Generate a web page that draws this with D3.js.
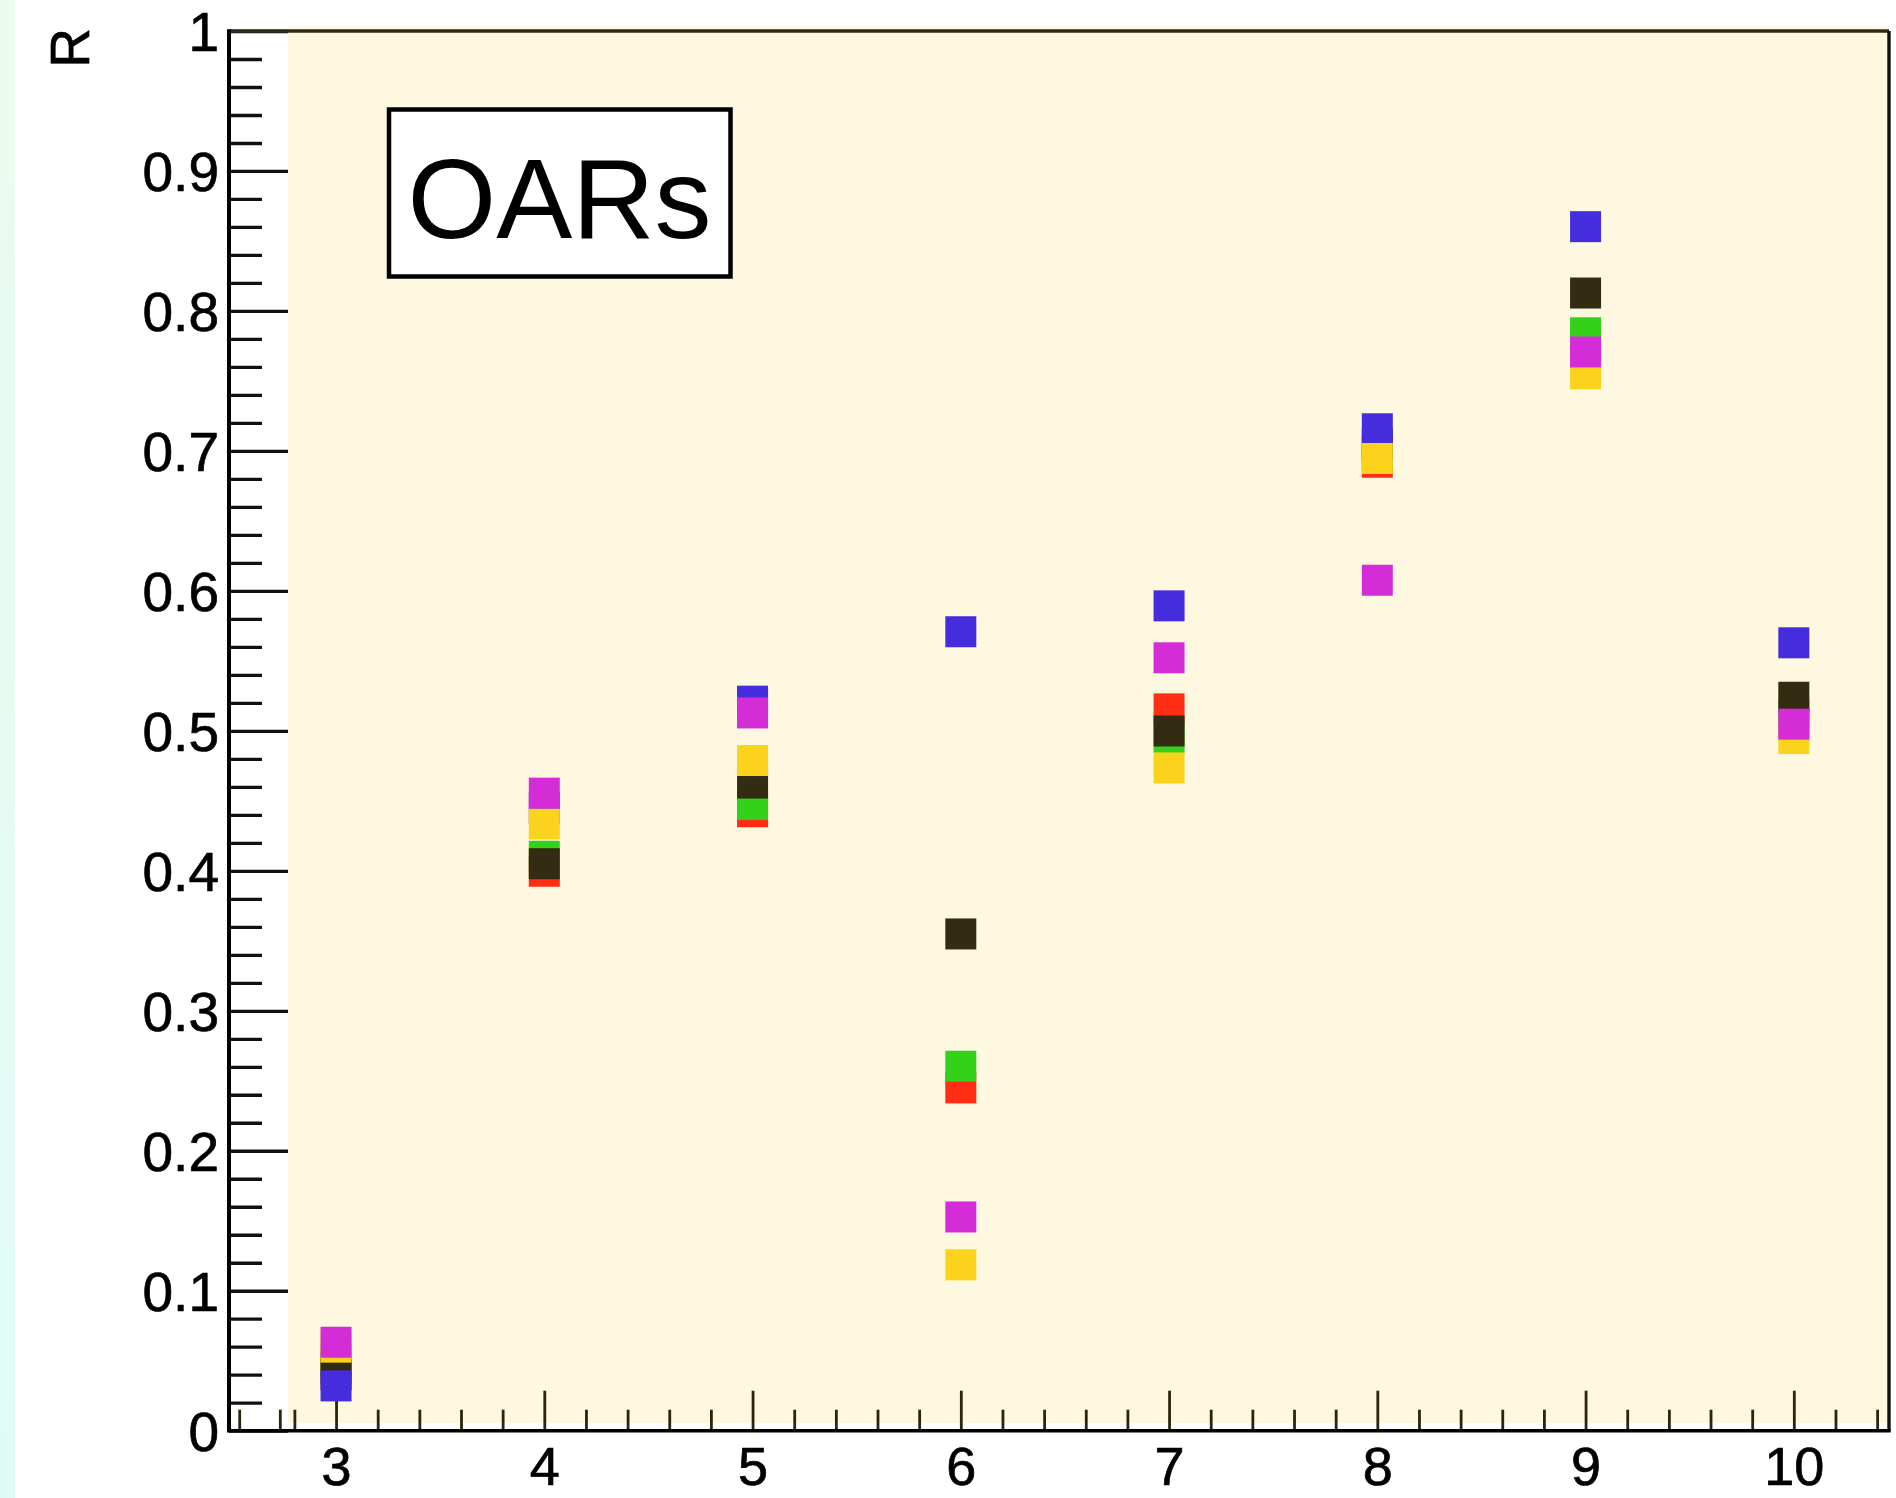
<!DOCTYPE html>
<html>
<head>
<meta charset="utf-8">
<script src="https://cdn.jsdelivr.net/npm/d3@7"></script>
<style>
  body { margin: 0; background: #ffffff; }
  svg { display: block; }
  text { font-family: "Liberation Sans", Arial, Helvetica, sans-serif; }
</style>
</head>
<body>
<svg id="chart" width="1896" height="1498"></svg>
<script>
// ---------------- data ----------------
const X_VALUES = [3, 4, 5, 6, 7, 8, 9, 10];
const RED     = [0.045, 0.3997, 0.4422, 0.2449, 0.5157, 0.6919, 0.775, 0.505];
const GREEN   = [0.050, 0.4104, 0.4474, 0.2604, 0.4952, 0.700, 0.7844, 0.512];
const BLACK   = [0.040, 0.4051, 0.4627, 0.3549, 0.4999, 0.705, 0.8128, 0.5240];
const BLUE    = [0.032, 0.445, 0.5212, 0.5708, 0.5893, 0.7158, 0.8602, 0.5629];
const YELLOW  = [0.0597, 0.4335, 0.4788, 0.1185, 0.4735, 0.6946, 0.7551, 0.4945];
const MAGENTA = [0.0632, 0.4555, 0.5128, 0.1527, 0.5522, 0.6076, 0.7707, 0.5048];

const Y_TICKS  = [0, 0.1, 0.2, 0.3, 0.4, 0.5, 0.6, 0.7, 0.8, 0.9, 1];
const Y_LABELS = ["0", "0.1", "0.2", "0.3", "0.4", "0.5", "0.6", "0.7", "0.8", "0.9", "1"];
const X_TICKS  = [3, 4, 5, 6, 7, 8, 9, 10];
const X_LABELS = ["3", "4", "5", "6", "7", "8", "9", "10"];
const X_EXTRA_MINOR = [2.535, 2.73];
const Y_TITLE = "R";
const BOX_LABEL = "OARs";

// draw order (later on top)
const SERIES = [
  { name: "red",     color: "#fe2d14", values: RED },
  { name: "green",   color: "#33d11a", values: GREEN },
  { name: "black",   color: "#332c12", values: BLACK },
  { name: "blue",    color: "#452cdc", values: BLUE },
  { name: "yellow",  color: "#fbd21c", values: YELLOW },
  { name: "magenta", color: "#d42dd8", values: MAGENTA }
];

// ---------------- layout ----------------
const W = 1896, H = 1498;
const L = 229, R = 1889, T = 31, B = 1430.7;
const FONT = 55;
const svg = d3.select("#chart");

const x = d3.scaleLinear().domain([2.486, 10.457]).range([L, R]);
const y = d3.scaleLinear().domain([0, 1]).range([B, T]);

// backgrounds
const defs = svg.append("defs");
const grad = defs.append("linearGradient").attr("id", "mint")
  .attr("x1", 0).attr("y1", 0).attr("x2", 0).attr("y2", 1);
grad.append("stop").attr("offset", "0%").attr("stop-color", "#ebfbef");
grad.append("stop").attr("offset", "100%").attr("stop-color", "#e0fbf6");
svg.append("rect").attr("x", 0).attr("y", 0).attr("width", 15).attr("height", H).attr("fill", "url(#mint)");

svg.append("rect").attr("x", 288).attr("y", 26).attr("width", R - 288).attr("height", 1423 - 26)
  .attr("fill", "#fdf8df");

// y minor ticks
const yMinor = d3.range(0, 51).map(i => i / 50).filter((v, i) => i % 5 !== 0);
svg.append("g").attr("transform", `translate(${L},0)`)
  .call(d3.axisRight(y).tickValues(yMinor).tickSize(33).tickFormat(""))
  .call(g => g.select(".domain").remove())
  .call(g => g.selectAll("line").attr("stroke", "#111").attr("stroke-width", 3.3));
// y major ticks
svg.append("g").attr("transform", `translate(${L},0)`)
  .call(d3.axisRight(y).tickValues(Y_TICKS).tickSize(59).tickFormat(""))
  .call(g => g.select(".domain").remove())
  .call(g => g.selectAll("line").attr("stroke", "#111").attr("stroke-width", 3.3));
// y labels
svg.append("g").attr("transform", `translate(${L},0)`)
  .call(d3.axisLeft(y).tickValues(Y_TICKS).tickSize(0).tickPadding(10)
    .tickFormat((d, i) => Y_LABELS[i]))
  .call(g => g.select(".domain").remove())
  .call(g => g.selectAll("text").attr("font-size", FONT).attr("fill", "#000")
    .attr("stroke", "#000").attr("stroke-width", 0.7)
    .attr("font-family", "'Liberation Sans', Arial, sans-serif").attr("dy", "0.36em"));

// x minor ticks
const xMinor = X_EXTRA_MINOR.concat(
  d3.range(14, 53).map(i => i / 5).filter(v => Math.abs(v - Math.round(v)) > 1e-6 && v < 10.457));
svg.append("g").attr("transform", `translate(0,${B})`)
  .call(d3.axisTop(x).tickValues(xMinor).tickSize(21).tickFormat(""))
  .call(g => g.select(".domain").remove())
  .call(g => g.selectAll("line").attr("stroke", "#2a2410").attr("stroke-width", 2.8));
// x major ticks
svg.append("g").attr("transform", `translate(0,${B})`)
  .call(d3.axisTop(x).tickValues(X_TICKS).tickSize(40).tickFormat(""))
  .call(g => g.select(".domain").remove())
  .call(g => g.selectAll("line").attr("stroke", "#2a2410").attr("stroke-width", 2.8));
// x labels
svg.append("g").attr("transform", `translate(0,${B})`)
  .call(d3.axisBottom(x).tickValues(X_TICKS).tickSize(0).tickPadding(16)
    .tickFormat((d, i) => X_LABELS[i]))
  .call(g => g.select(".domain").remove())
  .call(g => g.selectAll("text").attr("font-size", 54).attr("fill", "#000")
    .attr("stroke", "#000").attr("stroke-width", 0.7)
    .attr("font-family", "'Liberation Sans', Arial, sans-serif"));

// frame lines
const frame = svg.append("g").attr("fill", "none");
frame.append("line").attr("x1", L).attr("x2", R).attr("y1", T).attr("y2", T)
  .attr("stroke", "#2f2a18").attr("stroke-width", 3.4);
frame.append("line").attr("x1", R).attr("x2", R).attr("y1", T).attr("y2", B)
  .attr("stroke", "#111").attr("stroke-width", 3.4);
frame.append("line").attr("x1", L).attr("x2", L).attr("y1", T - 1.7).attr("y2", B + 1.7)
  .attr("stroke", "#000").attr("stroke-width", 4);
frame.append("line").attr("x1", L).attr("x2", R + 1.7).attr("y1", B).attr("y2", B)
  .attr("stroke", "#000").attr("stroke-width", 3.4);

// y title
svg.append("text")
  .attr("transform", `translate(89,28) rotate(-90)`)
  .attr("text-anchor", "end")
  .attr("font-size", FONT)
  .attr("fill", "#000")
  .attr("stroke", "#000").attr("stroke-width", 0.7)
  .text(Y_TITLE);

// label box
svg.append("rect").attr("x", 389).attr("y", 109.5).attr("width", 341.5).attr("height", 167)
  .attr("fill", "#ffffff").attr("stroke", "#000").attr("stroke-width", 4.5);
svg.append("text").attr("x", 407.5).attr("y", 237.7)
  .attr("font-size", 114).attr("fill", "#000").text(BOX_LABEL);

// markers
const MS = 31;
const markers = svg.append("g");
SERIES.forEach(s => {
  markers.append("g").attr("class", "series-" + s.name)
    .selectAll("rect")
    .data(s.values.map((v, i) => ({ x: X_VALUES[i], y: v })))
    .join("rect")
    .attr("x", d => x(d.x) - MS / 2)
    .attr("y", d => y(d.y) - MS / 2)
    .attr("width", MS)
    .attr("height", MS)
    .attr("fill", s.color);
});
</script>
</body>
</html>
